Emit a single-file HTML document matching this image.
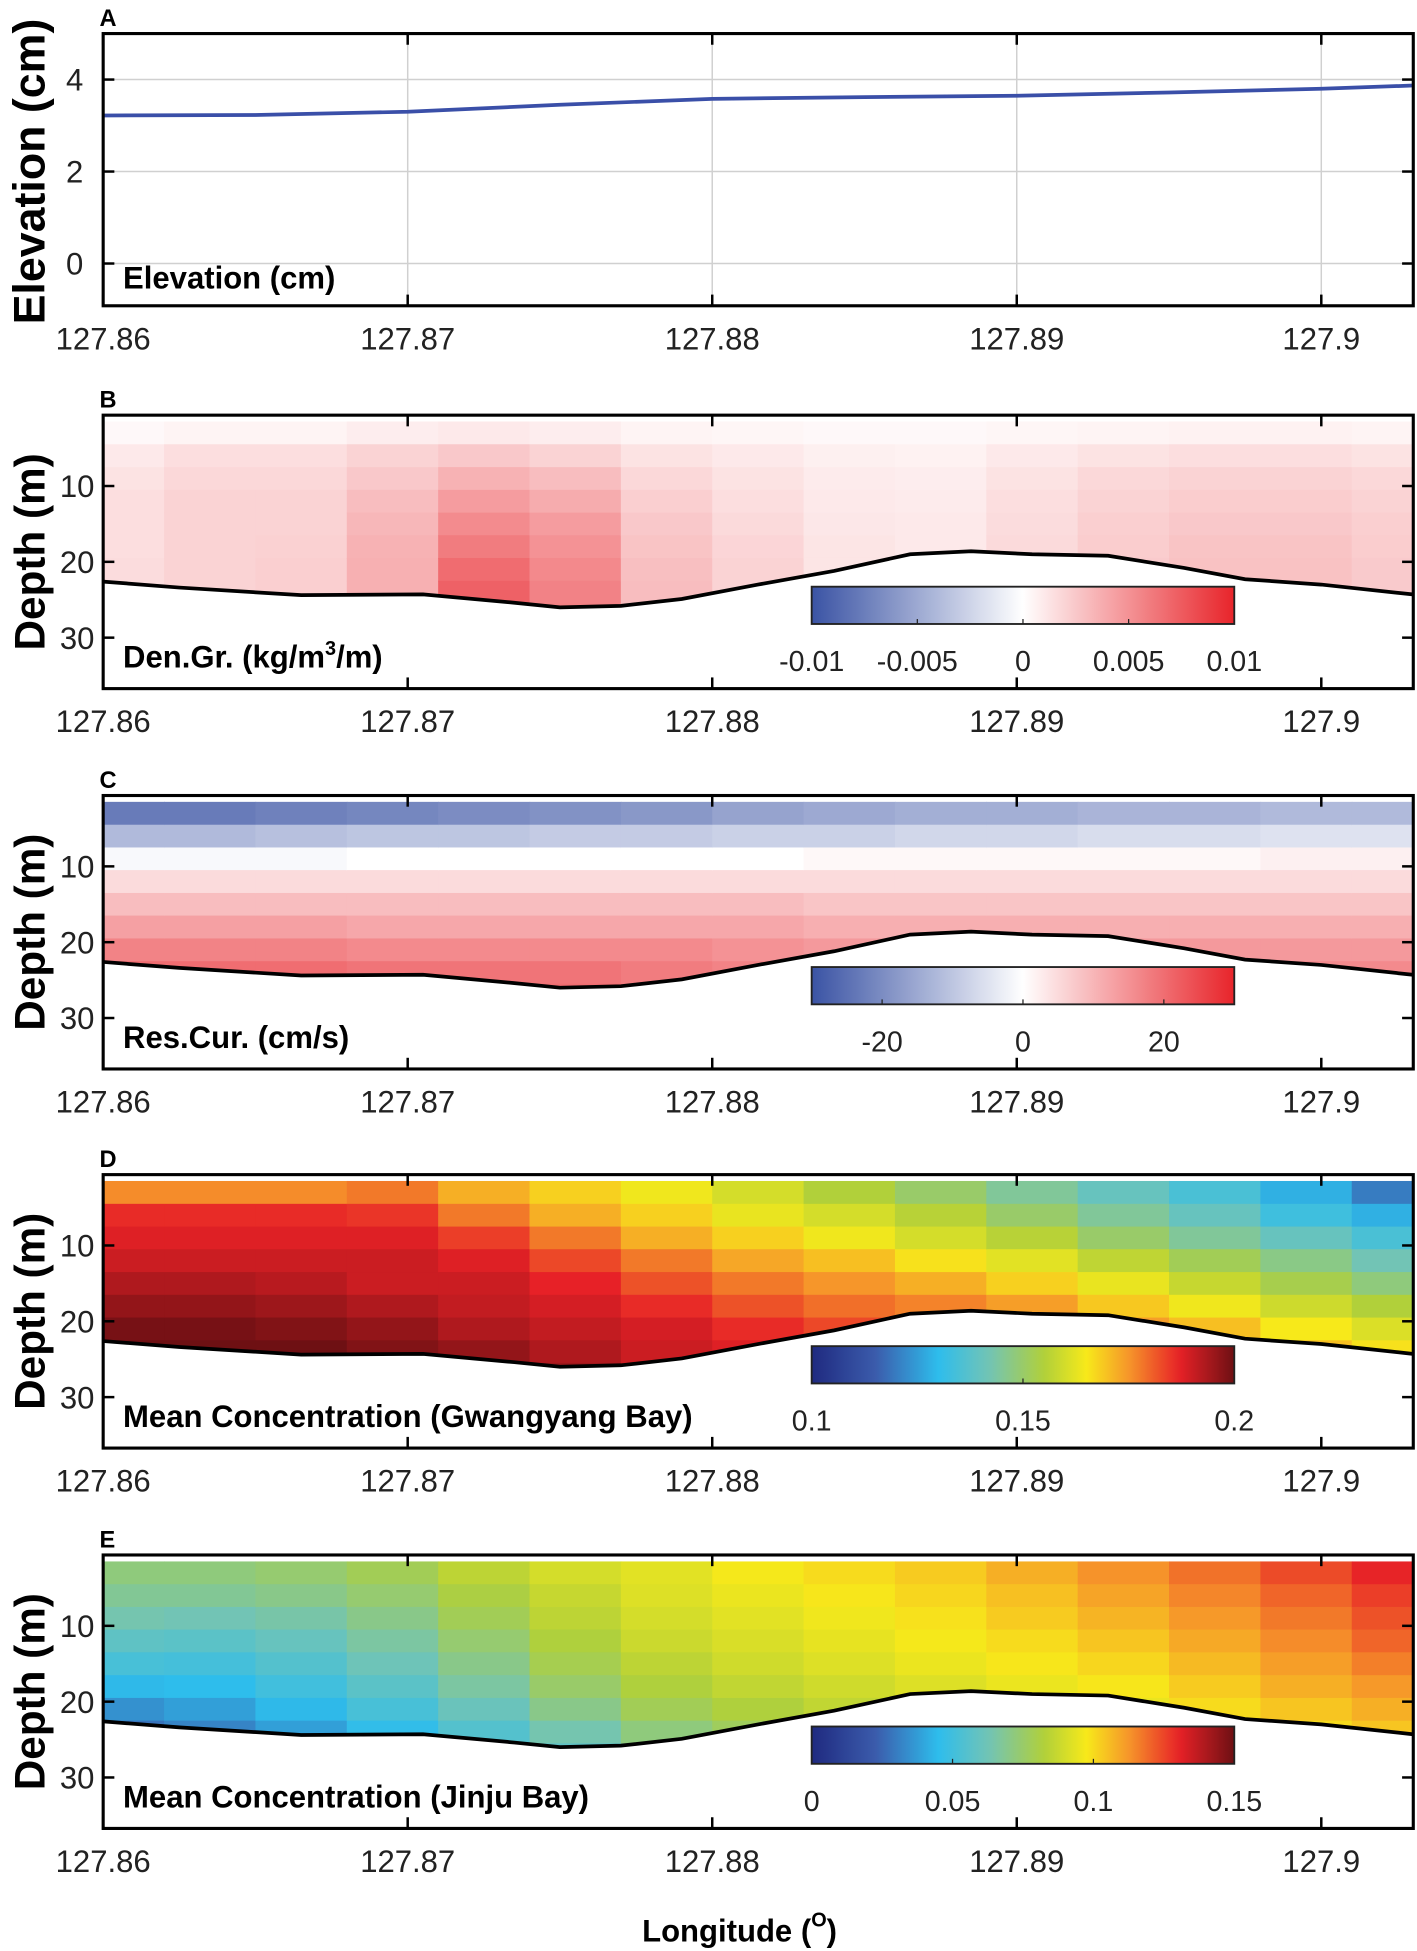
<!DOCTYPE html>
<html><head><meta charset="utf-8"><style>
html,body{margin:0;padding:0;background:#fff;}
svg{display:block;font-family:"Liberation Sans",Arial,sans-serif;}
</style></head><body>
<svg id="fig" width="1417" height="1951" viewBox="0 0 1140 1569.6" xmlns="http://www.w3.org/2000/svg"></svg>
<script>
const lonTicks = [127.86, 127.87, 127.88, 127.89, 127.9];
const lonTickLabels = ["127.86", "127.87", "127.88", "127.89", "127.9"];
const elevLon = [127.86, 127.865, 127.87, 127.875, 127.88, 127.885, 127.89, 127.895, 127.9, 127.903];
const elevVal = [3.22, 3.23, 3.3, 3.45, 3.58, 3.62, 3.65, 3.72, 3.8, 3.87];
const elevTicks = [0, 2, 4];
const depthTicks = [10, 20, 30];
const bathyLon = [127.86, 127.8625, 127.8665, 127.8705, 127.8735, 127.875, 127.877, 127.879, 127.8815, 127.884, 127.8865, 127.8885, 127.8905, 127.893, 127.8955, 127.8975, 127.9, 127.903];
const bathyDepth = [22.6, 23.4, 24.4, 24.3, 25.4, 26.0, 25.8, 24.9, 23.0, 21.2, 19.0, 18.6, 19.0, 19.2, 20.8, 22.3, 23.0, 24.3];
const colLon = [127.8605, 127.8635, 127.8665, 127.8695, 127.8725, 127.8755, 127.8785, 127.8815, 127.8845, 127.8875, 127.8905, 127.8935, 127.8965, 127.8995, 127.9025];
const rowDepth = [1.5, 4.5, 7.5, 10.5, 13.5, 16.5, 19.5, 22.5, 25.5];
const denGr = [
 [0.3,0.5,0.5,0.8,1.0,0.8,0.5,0.4,0.3,0.3,0.4,0.5,0.6,0.6,0.5],
 [1.0,1.5,1.5,2.0,2.5,2.0,1.3,1.0,0.7,0.6,1.0,1.3,1.5,1.5,1.3],
 [1.3,1.8,1.8,2.5,3.5,3.0,1.8,1.3,0.9,0.8,1.3,1.8,2.0,2.0,1.8],
 [1.5,2.0,2.0,3.0,4.5,3.8,2.2,1.5,1.0,0.9,1.5,2.0,2.3,2.3,2.0],
 [1.5,2.0,2.0,3.3,5.3,4.5,2.5,1.7,1.1,1.0,1.6,2.2,2.5,2.5,2.2],
 [1.5,2.0,2.1,3.5,6.0,5.0,2.7,1.9,1.2,1.0,1.7,2.3,2.7,2.7,2.3],
 [1.6,2.0,2.2,3.6,6.7,5.4,2.9,2.0,1.2,1.0,1.8,2.4,2.8,2.8,2.4],
 [1.6,2.0,2.2,3.6,7.2,5.7,3.0,2.0,1.2,1.0,1.8,2.4,2.8,2.8,2.4],
 [1.6,2.0,2.2,3.6,7.5,5.8,3.0,2.0,1.2,1.0,1.8,2.4,2.8,2.8,2.4]];
const resCur = [
 [-23,-23,-22,-21,-20,-19,-18,-16,-15,-14,-14,-13,-13,-12,-12],
 [-12,-12,-11,-10,-10,-9,-9,-8,-8,-7,-7,-6,-6,-5,-5],
 [-1,-1,-1,0,0,0,0,0,1,1,1,1,1,2,2],
 [5,5,5,5,5,5,5,5,5,5,5,5,5,5,5],
 [9,9,9,9,9,9,9,9,8,8,8,8,8,8,8],
 [13,13,13,12,12,12,12,12,11,11,11,11,11,11,11],
 [17,17,17,16,16,16,16,15,14,14,14,14,14,14,14],
 [20,20,20,19,19,19,18,17,16,16,16,16,16,16,16],
 [21,21,21,20,20,20,19,18,17,17,17,17,17,17,17]];
const concG = [
 [0.176,0.176,0.176,0.178,0.172,0.168,0.164,0.16,0.155,0.15,0.145,0.14,0.135,0.128,0.12],
 [0.186,0.186,0.186,0.185,0.178,0.172,0.168,0.163,0.16,0.156,0.15,0.145,0.14,0.133,0.128],
 [0.188,0.188,0.188,0.188,0.184,0.178,0.172,0.168,0.164,0.16,0.156,0.15,0.145,0.14,0.135],
 [0.19,0.19,0.19,0.19,0.188,0.183,0.178,0.173,0.17,0.166,0.162,0.157,0.152,0.147,0.142],
 [0.193,0.193,0.192,0.19,0.19,0.187,0.182,0.178,0.175,0.172,0.168,0.163,0.158,0.153,0.148],
 [0.196,0.196,0.195,0.193,0.191,0.189,0.186,0.182,0.179,0.177,0.174,0.169,0.164,0.159,0.155],
 [0.199,0.199,0.198,0.196,0.193,0.191,0.189,0.186,0.183,0.18,0.178,0.174,0.17,0.165,0.161],
 [0.201,0.201,0.2,0.198,0.196,0.193,0.19,0.188,0.185,0.183,0.18,0.178,0.174,0.17,0.166],
 [0.201,0.201,0.201,0.2,0.198,0.195,0.192,0.189,0.187,0.185,0.182,0.18,0.177,0.173,0.17]];
const concJ = [
 [0.072,0.072,0.074,0.078,0.085,0.09,0.093,0.097,0.1,0.103,0.108,0.113,0.118,0.124,0.13],
 [0.068,0.068,0.07,0.074,0.081,0.087,0.092,0.095,0.098,0.101,0.105,0.11,0.115,0.12,0.126],
 [0.064,0.063,0.065,0.07,0.078,0.085,0.09,0.093,0.096,0.099,0.103,0.107,0.112,0.117,0.123],
 [0.058,0.057,0.06,0.066,0.074,0.082,0.088,0.091,0.094,0.097,0.1,0.104,0.109,0.114,0.12],
 [0.052,0.051,0.055,0.062,0.07,0.079,0.085,0.089,0.092,0.095,0.098,0.101,0.106,0.111,0.116],
 [0.044,0.045,0.05,0.057,0.066,0.075,0.082,0.086,0.089,0.092,0.095,0.098,0.103,0.108,0.112],
 [0.035,0.038,0.044,0.052,0.061,0.07,0.078,0.082,0.086,0.089,0.092,0.095,0.1,0.104,0.108],
 [0.028,0.032,0.038,0.046,0.055,0.064,0.072,0.077,0.082,0.085,0.088,0.092,0.096,0.1,0.104],
 [0.025,0.028,0.034,0.042,0.05,0.058,0.066,0.072,0.078,0.082,0.085,0.089,0.093,0.097,0.1]];
const cbTicksB = [-10, -5, 0, 5, 10];
const cbLabelsB = ["-0.01", "-0.005", "0", "0.005", "0.01"];
const cbTicksC = [-20, 0, 20];
const cbLabelsC = ["-20", "0", "20"];
const cbTicksD = [0.1, 0.15, 0.2];
const cbLabelsD = ["0.1", "0.15", "0.2"];
const cbTicksE = [0, 0.05, 0.1, 0.15];
const cbLabelsE = ["0", "0.05", "0.1", "0.15"];

const NS = "http://www.w3.org/2000/svg";
const svg = document.getElementById('fig');
function mk(tag, attrs, parent) {
  const e = document.createElementNS(NS, tag);
  for (const k in attrs) e.setAttribute(k, attrs[k]);
  (parent || svg).appendChild(e);
  return e;
}
const X0 = 83, X1 = 1137;
const LON0 = 127.86, PXPER = 24500;
function xs(lon) { return X0 + (lon - LON0) * PXPER; }
function hex(c) { return [parseInt(c.slice(1,3),16), parseInt(c.slice(3,5),16), parseInt(c.slice(5,7),16)]; }
function cmap(stops, t) {
  t = Math.max(0, Math.min(1, t));
  for (let i = 1; i < stops.length; i++) {
    if (t <= stops[i][0]) {
      const a = stops[i-1], b = stops[i];
      const f = (t - a[0]) / (b[0] - a[0]);
      const ca = hex(a[1]), cb = hex(b[1]);
      return 'rgb(' + ca.map((v, j) => Math.round(v + (cb[j] - v) * f)).join(',') + ')';
    }
  }
  return stops[stops.length-1][1];
}
const divStops = [[0,'#3a53a4'],[0.5,'#ffffff'],[1,'#e8242a']];
const jetStops = [[0,'#1f2a80'],[0.15,'#3b5bab'],[0.3,'#2ebdec'],[0.42,'#72c4b5'],[0.55,'#b1d03a'],[0.65,'#f7e91a'],[0.75,'#f6962a'],[0.87,'#e72127'],[1,'#6e1013']];

function xAxis(g, yTop, yBot) {
  lonTicks.forEach((lv, i) => {
    const x = xs(lv);
    const t1 = mk('line', {x1:x, x2:x, y1:yBot, y2:yBot-9, stroke:'#000', 'stroke-width':2}, g);
    
    
    const t2 = mk('line', {x1:x, x2:x, y1:yTop, y2:yTop+9, stroke:'#000', 'stroke-width':2}, g);
    
    
    const tx = mk('text', {x:x, y:yBot+35, 'text-anchor':'middle', 'font-size':25, fill:'#222'}, g);
    tx.textContent = lonTickLabels[i];
    
    
  });
}
function frame(g, yTop, yBot) {
  const r = mk('rect', {x:X0, y:yTop, width:X1-X0, height:yBot-yTop, fill:'none', stroke:'#000', 'stroke-width':2.5}, g);
  
  
}
function letter(g, yTop, L) {
  const t = mk('text', {x:80, y:yTop-6, 'font-size':19, 'font-weight':'bold'}, g);
  t.textContent = L;
  
  
}
function yTitle(g, yMid, txt, size) {
  const t = mk('text', {x:0, y:0, 'font-size':size, 'font-weight':'bold', 'text-anchor':'middle', transform:'translate(36,'+yMid+') rotate(-90)'}, g);
  t.textContent = txt;
  
  
}

(function(){
  const g = mk('g', {});
  
  
  const yT = 27, yB = 246;
  const ys = v => 212 - v * 37;
  lonTicks.forEach(lv => {
    const gl = mk('line', {x1:xs(lv), x2:xs(lv), y1:yT, y2:yB, stroke:'#d0d0d0', 'stroke-width':1.2}, g);
    
    
  });
  elevTicks.forEach(v => {
    const gl = mk('line', {x1:X0, x2:X1, y1:ys(v), y2:ys(v), stroke:'#d0d0d0', 'stroke-width':1.2}, g);
    
    
    const tk = mk('line', {x1:X0, x2:X0+9, y1:ys(v), y2:ys(v), stroke:'#000', 'stroke-width':2}, g);
    
    
    const tk2 = mk('line', {x1:X1, x2:X1-9, y1:ys(v), y2:ys(v), stroke:'#000', 'stroke-width':2}, g);
    
    
    const t = mk('text', {x:67, y:ys(v)+9, 'text-anchor':'end', 'font-size':25, fill:'#222'}, g);
    t.textContent = String(v);
    
    
  });
  const pts = elevLon.map((l, i) => xs(l).toFixed(1) + ',' + ys(elevVal[i]).toFixed(1)).join(' ');
  const pl = mk('polyline', {points:pts, fill:'none', stroke:'#3a4fa8', 'stroke-width':3}, g);
  
  
  frame(g, yT, yB);
  xAxis(g, yT, yB);
  letter(g, yT, 'A');
  yTitle(g, 138, 'Elevation (cm)', 36);
  const lab = mk('text', {x:99, y:232, 'font-size':25, 'font-weight':'bold'}, g);
  lab.textContent = 'Elevation (cm)';
  
  
})();

function section(opts) {
  const g = mk('g', {});
  
  
  const yT = opts.yTop, yB = yT + 220;
  const d0 = yT - 4;
  const ds = d => d0 + d * 6.1;
  const clipId = 'clip' + opts.letter;
  const cp = mk('clipPath', {id:clipId}, g);
  let pts = X0 + ',' + ds(0) + ' ';
  pts += bathyLon.map((l, i) => xs(l).toFixed(1) + ',' + ds(bathyDepth[i]).toFixed(1)).join(' ');
  pts += ' ' + X1 + ',' + ds(0);
  mk('polygon', {points:pts}, cp);
  const cg = mk('g', {'clip-path':'url(#' + clipId + ')'}, g);
  const grid = opts.grid;
  colLon.forEach((l, ci) => {
    rowDepth.forEach((d, ri) => {
      const x = Math.max(X0, xs(l - 0.0015));
      const w = Math.min(X1, xs(l + 0.0015)) - x + 0.6;
      const c = mk('rect', {x:x.toFixed(1), y:ds(d).toFixed(1), width:w.toFixed(1), height:(3*6.1+0.6).toFixed(1), fill:cmap(opts.stops, opts.norm(grid[ri][ci]))}, cg);
      
      
    });
  });
  const bl = mk('polyline', {points:bathyLon.map((l, i) => xs(l).toFixed(1) + ',' + ds(bathyDepth[i]).toFixed(1)).join(' '), fill:'none', stroke:'#000', 'stroke-width':3}, g);
  
  
  depthTicks.forEach(v => {
    const tk = mk('line', {x1:X0, x2:X0+9, y1:ds(v), y2:ds(v), stroke:'#000', 'stroke-width':2}, g);
    
    
    const tk2 = mk('line', {x1:X1, x2:X1-9, y1:ds(v), y2:ds(v), stroke:'#000', 'stroke-width':2}, g);
    
    
    const t = mk('text', {x:76, y:ds(v)+9, 'text-anchor':'end', 'font-size':25, fill:'#222'}, g);
    t.textContent = String(v);
    
    
  });
  frame(g, yT, yB);
  xAxis(g, yT, yB);
  letter(g, yT, opts.letter);
  yTitle(g, yT + 110, 'Depth (m)', 34);
  const cbx0 = 653, cbx1 = 993, cby = yT + 138;
  const gid = 'grad' + opts.letter;
  const defs = mk('defs', {}, g);
  const lg = mk('linearGradient', {id:gid, x1:0, x2:1, y1:0, y2:0}, defs);
  for (let i = 0; i <= 40; i++) mk('stop', {offset:(i/40), 'stop-color':cmap(opts.stops, i/40)}, lg);
  const cb = mk('rect', {x:cbx0, y:cby, width:cbx1-cbx0, height:30, fill:'url(#' + gid + ')', stroke:'#222', 'stroke-width':1.5}, g);
  
  
  opts.cbTicks.forEach((v, i) => {
    const x = cbx0 + opts.norm(v) * (cbx1 - cbx0);
    const tk = mk('line', {x1:x, x2:x, y1:cby+30, y2:cby+26, stroke:'#222', 'stroke-width':1}, g);
    
    
    const t = mk('text', {x:x, y:cby+68, 'text-anchor':'middle', 'font-size':23, fill:'#222'}, g);
    t.textContent = opts.cbLabels[i];
    
    
  });
  const lab = mk('text', {x:99, y:yT + 203, 'font-size':25, 'font-weight':'bold'}, g);
  if (opts.sup) {
    lab.textContent = 'Den.Gr. (kg/m';
    const s = mk('tspan', {'font-size':16, dy:-10}, lab); s.textContent = '3';
    const s2 = mk('tspan', {dy:10}, lab); s2.textContent = '/m)';
  } else lab.textContent = opts.label;
  
  
}
section({name:'panel-b-density-gradient', letter:'B', yTop:334, grid:denGr, stops:divStops, norm:v => (v + 10)/20, sup:true, cbTicks:cbTicksB, cbLabels:cbLabelsB});
section({name:'panel-c-residual-current', letter:'C', yTop:640, grid:resCur, stops:divStops, norm:v => (v + 30)/60, label:'Res.Cur. (cm/s)', cbTicks:cbTicksC, cbLabels:cbLabelsC});
section({name:'panel-d-gwangyang-concentration', letter:'D', yTop:945, grid:concG, stops:jetStops, norm:v => (v - 0.1)/0.1, label:'Mean Concentration (Gwangyang Bay)', cbTicks:cbTicksD, cbLabels:cbLabelsD});
section({name:'panel-e-jinju-concentration', letter:'E', yTop:1251, grid:concJ, stops:jetStops, norm:v => v/0.15, label:'Mean Concentration (Jinju Bay)', cbTicks:cbTicksE, cbLabels:cbLabelsE});

(function(){
  const t = mk('text', {x:595, y:1562, 'text-anchor':'middle', 'font-size':25, 'font-weight':'bold'});
  t.textContent = 'Longitude (';
  const s = mk('tspan', {'font-size':16, dy:-12}, t); s.textContent = 'O';
  const s2 = mk('tspan', {dy:12}, t); s2.textContent = ')';
  
  
})();
</script>
</body></html>
